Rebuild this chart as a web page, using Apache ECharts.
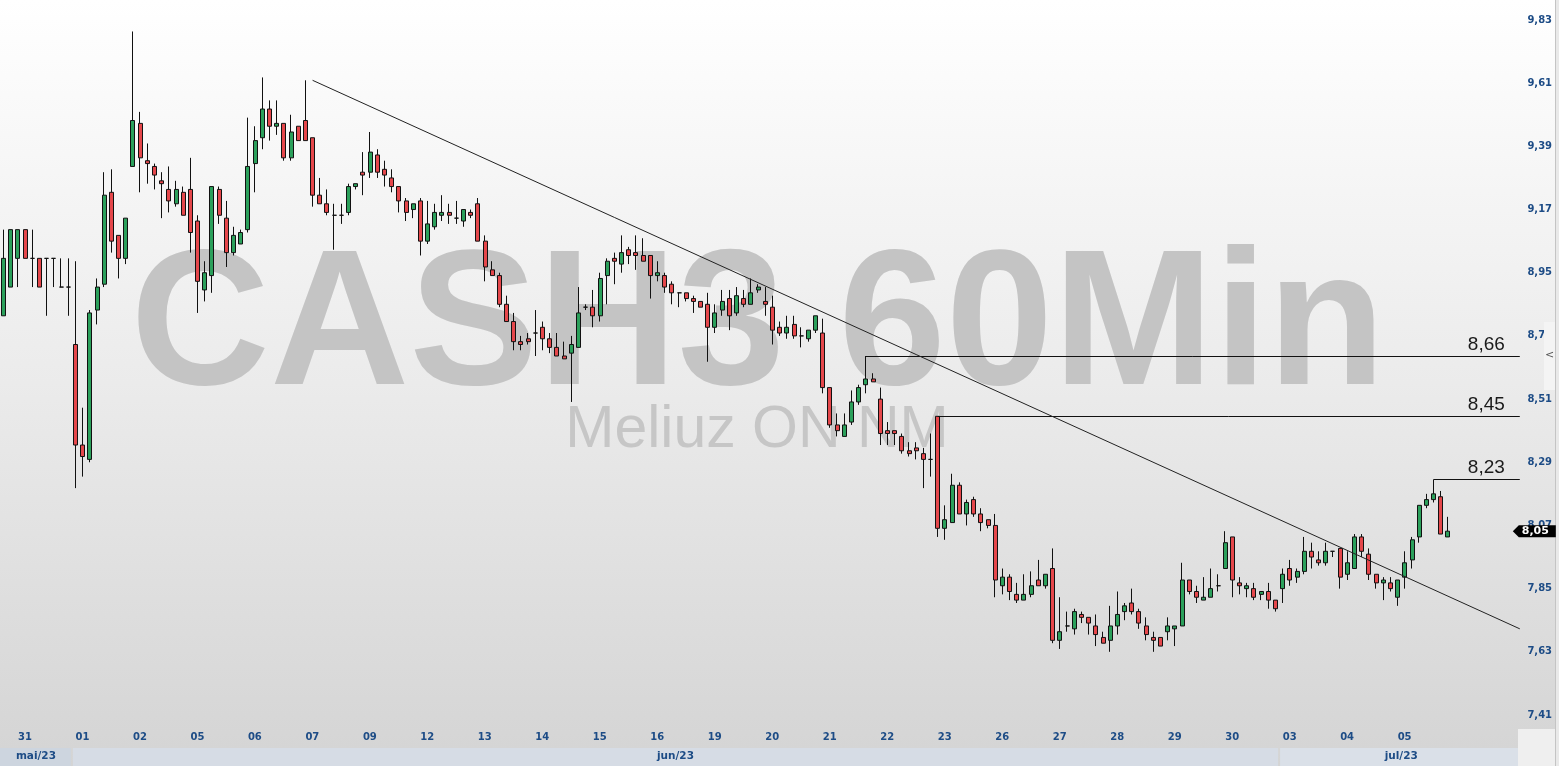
<!DOCTYPE html>
<html>
<head>
<meta charset="utf-8">
<script src="https://cdn.jsdelivr.net/npm/echarts@6/dist/echarts.min.js"></script>
<style>html,body{margin:0;padding:0;background:#fff;overflow:hidden}#c{width:1559px;height:766px}</style>
</head>
<body>
<div id="c"></div>
<script>
// ---- sessions (trading days) and hourly slots ----
const sessionDays  = ['30','31','01','02','05','06','07','09','12','13','14','15','16','19','20','21','22','23','26','27','28','29','30','03','04','05'];
const sessionMonth = [0,0,1,1,1,1,1,1,1,1,1,1,1,1,1,1,1,1,1,1,1,1,1,2,2,2];
const monthLabels  = ['mai/23','jun/23','jul/23'];
const hours        = ['10','11','12','13','14','15','16','17'];
const hiddenFirstHours = 6;   // only 16h and 17h of 30/mai are in view
const emptySlots   = 10;      // free space to the right of the last candle

// ---- OHLC (one row per session) ----
const opens = [
 8.80,8.90,
 9.00,9.10,9.00,9.00,9.00,9.00,8.90,8.90,
 8.70,8.35,8.30,8.82,8.91,9.23,9.08,9.00,
 9.32,9.47,9.34,9.32,9.27,9.24,9.19,9.23,
 9.24,9.13,8.89,8.94,9.24,9.14,9.02,9.05,
 9.10,9.33,9.42,9.52,9.46,9.47,9.35,9.46,
 9.48,9.42,9.22,9.19,9.15,9.15,9.16,9.25,
 9.30,9.30,9.36,9.31,9.28,9.25,9.20,9.17,
 9.20,9.06,9.11,9.15,9.16,9.14,9.13,9.16,
 9.19,9.06,8.96,8.94,8.84,8.78,8.71,8.72,
 8.74,8.76,8.72,8.69,8.66,8.67,8.69,8.83,
 8.83,8.80,8.94,9.00,8.98,9.03,9.02,9.01,
 9.01,8.94,8.94,8.91,8.88,8.88,8.86,8.85,
 8.84,8.76,8.82,8.86,8.81,8.86,8.84,8.89,
 8.85,8.83,8.76,8.74,8.77,8.73,8.72,8.75,
 8.74,8.55,8.42,8.38,8.43,8.50,8.56,8.58,
 8.51,8.40,8.40,8.38,8.33,8.34,8.32,8.30,
 8.45,8.06,8.08,8.21,8.11,8.16,8.11,8.09,
 8.07,7.86,7.89,7.83,7.81,7.83,7.88,7.86,
 7.92,7.67,7.72,7.71,7.76,7.75,7.72,7.68,
 7.67,7.72,7.77,7.80,7.77,7.72,7.68,7.68,
 7.70,7.71,7.72,7.88,7.84,7.81,7.82,7.86,
 7.92,8.03,7.87,7.85,7.85,7.83,7.84,7.81,
 7.85,7.92,7.89,7.91,7.98,7.95,7.94,7.98,
 7.99,7.90,7.92,8.03,7.97,7.90,7.87,7.87,
 7.82,7.89,7.95,8.03,8.14,8.16,8.17,8.03
];
const closes = [
 9.00,9.10,
 9.10,9.00,9.00,8.90,9.00,9.00,8.90,8.90,
 8.35,8.31,8.81,8.90,9.22,9.06,9.00,9.14,
 9.48,9.35,9.33,9.29,9.26,9.20,9.24,9.15,
 9.09,8.92,8.95,9.25,9.15,9.02,9.08,9.09,
 9.32,9.41,9.52,9.46,9.47,9.35,9.44,9.41,
 9.41,9.22,9.19,9.16,9.15,9.15,9.25,9.26,
 9.29,9.37,9.30,9.29,9.25,9.20,9.16,9.19,
 9.06,9.12,9.16,9.16,9.15,9.14,9.17,9.15,
 9.06,8.97,8.94,8.84,8.78,8.71,8.70,8.71,
 8.74,8.72,8.69,8.66,8.65,8.70,8.81,8.83,
 8.80,8.93,8.99,8.99,9.02,9.01,9.01,8.99,
 8.94,8.95,8.90,8.88,8.88,8.86,8.85,8.83,
 8.76,8.81,8.85,8.80,8.87,8.84,8.88,8.90,
 8.84,8.75,8.74,8.76,8.73,8.73,8.75,8.80,
 8.55,8.42,8.40,8.42,8.50,8.55,8.58,8.57,
 8.39,8.39,8.39,8.33,8.32,8.33,8.30,8.30,
 8.06,8.09,8.21,8.11,8.15,8.11,8.08,8.07,
 7.88,7.89,7.84,7.81,7.83,7.86,7.86,7.90,
 7.67,7.70,7.72,7.77,7.75,7.73,7.69,7.66,
 7.72,7.76,7.79,7.77,7.73,7.69,7.67,7.65,
 7.72,7.72,7.88,7.84,7.82,7.82,7.85,7.86,
 8.01,7.88,7.86,7.86,7.82,7.84,7.81,7.78,
 7.90,7.88,7.91,7.98,7.96,7.94,7.98,7.98,
 7.89,7.94,8.03,7.98,7.90,7.87,7.88,7.85,
 7.88,7.94,8.02,8.14,8.16,8.18,8.04,8.05
];
const lows = [
 8.80,8.90,
 8.90,9.00,8.90,8.90,8.80,8.90,8.90,8.80,
 8.20,8.24,8.29,8.77,8.90,9.02,8.93,8.98,
 9.32,9.23,9.26,9.24,9.14,9.16,9.18,9.15,
 9.02,8.81,8.85,8.88,9.12,8.97,9.01,9.05,
 9.09,9.23,9.38,9.41,9.43,9.34,9.34,9.41,
 9.41,9.18,9.19,9.15,9.03,9.12,9.15,9.24,
 9.22,9.28,9.28,9.25,9.23,9.16,9.13,9.14,
 9.01,9.05,9.10,9.13,9.12,9.12,9.11,9.14,
 9.06,8.92,8.94,8.83,8.78,8.68,8.68,8.70,
 8.66,8.68,8.67,8.66,8.65,8.50,8.69,8.82,
 8.76,8.78,8.84,8.91,8.95,8.98,8.96,8.99,
 8.86,8.92,8.88,8.84,8.83,8.85,8.81,8.83,
 8.64,8.74,8.80,8.75,8.80,8.83,8.84,8.88,
 8.80,8.70,8.73,8.72,8.72,8.69,8.71,8.74,
 8.53,8.41,8.38,8.38,8.42,8.49,8.53,8.57,
 8.35,8.35,8.35,8.32,8.31,8.30,8.20,8.24,
 8.03,8.02,8.08,8.11,8.07,8.10,8.05,8.06,
 7.82,7.83,7.81,7.80,7.81,7.82,7.86,7.85,
 7.66,7.64,7.70,7.69,7.73,7.69,7.65,7.66,
 7.63,7.69,7.74,7.76,7.71,7.67,7.63,7.65,
 7.67,7.65,7.72,7.83,7.80,7.81,7.82,7.84,
 7.92,7.82,7.83,7.82,7.81,7.81,7.78,7.77,
 7.80,7.86,7.87,7.90,7.92,7.93,7.93,7.96,
 7.85,7.88,7.92,7.96,7.88,7.85,7.81,7.84,
 7.79,7.85,7.92,8.01,8.13,8.15,8.04,8.03
];
const highs = [
 9.10,9.10,
 9.10,9.10,9.10,9.00,9.00,9.00,9.00,9.00,
 8.99,8.48,8.82,8.93,9.30,9.31,9.08,9.14,
 9.79,9.51,9.40,9.33,9.30,9.32,9.27,9.25,
 9.35,9.15,8.99,9.25,9.25,9.20,9.11,9.10,
 9.49,9.46,9.63,9.55,9.55,9.47,9.50,9.46,
 9.62,9.42,9.28,9.24,9.19,9.19,9.26,9.26,
 9.37,9.44,9.38,9.34,9.31,9.25,9.21,9.19,
 9.21,9.20,9.19,9.22,9.19,9.20,9.17,9.17,
 9.21,9.08,8.99,8.95,8.87,8.81,8.73,8.74,
 8.82,8.78,8.74,8.74,8.71,8.73,8.90,8.84,
 8.89,8.95,9.00,9.02,9.08,9.04,9.08,9.07,
 9.01,8.99,8.95,8.92,8.88,8.88,8.87,8.85,
 8.88,8.84,8.89,8.89,8.90,8.89,8.93,8.91,
 8.90,8.87,8.78,8.80,8.80,8.76,8.75,8.80,
 8.79,8.55,8.46,8.46,8.54,8.56,8.66,8.60,
 8.55,8.43,8.40,8.39,8.36,8.36,8.34,8.39,
 8.45,8.14,8.25,8.22,8.16,8.17,8.13,8.09,
 8.11,7.92,7.90,7.87,7.90,7.91,7.95,7.90,
 7.99,7.82,7.77,7.78,7.77,7.75,7.76,7.70,
 7.79,7.84,7.80,7.85,7.78,7.75,7.70,7.68,
 7.75,7.72,7.94,7.88,7.86,7.89,7.92,7.90,
 8.05,8.03,7.89,7.87,7.87,7.84,7.87,7.81,
 7.92,7.95,7.92,8.03,8.01,7.98,8.01,7.98,
 7.99,7.98,8.04,8.04,7.99,7.90,7.89,7.89,
 7.88,7.98,8.03,8.14,8.18,8.23,8.19,8.10
];

// ---- price axis ticks and drawn studies ----
const yTicks = [7.41,7.63,7.85,8.07,8.29,8.51,8.73,8.95,9.17,9.39,9.61,9.83];
const yMin = 7.3647, yMax = 9.8996;
const levelValues   = [8.66, 8.45, 8.23];
const levelStartIdx = [120, 130, 199];
const trendStart = [43, 9.62];
const trendEnd   = [211, 7.71];
const watermarkTitle = 'CASH3 60Min';
const watermarkSub   = 'Meliuz ON NM';

// ---- build categories ----
const categories = [], dayLabelAt = {}, candleMonth = [];
sessionDays.forEach((d, s) => {
  hours.forEach(h => {
    categories.push(d + '/' + sessionMonth[s] + ' ' + h + 'h');
    candleMonth.push(sessionMonth[s]);
  });
});
categories.splice(0, hiddenFirstHours);
candleMonth.splice(0, hiddenFirstHours);
categories.forEach((c, i) => { if (c.endsWith(' 10h')) dayLabelAt[i] = c.split('/')[0]; });
for (let k = 1; k <= emptySlots; k++) categories.push('+' + k);
const N = categories.length;

const candleData = opens.map((o, i) => [o, closes[i], lows[i], highs[i]]);
const lastClose = closes[closes.length - 1];

// month spans
const monthSpan = monthLabels.map((m, mi) => {
  let a = candleMonth.indexOf(mi), b = candleMonth.lastIndexOf(mi);
  if (mi === monthLabels.length - 1) b = N - 1;
  return [a, b];
});
const monthCenters = monthSpan.map(s => (s[0] + s[1]) / 2);

const fmt = v => v.toFixed(2).replace('.', ',');
const blue = '#1d4c86';
const axisFont = {color: blue, fontFamily: 'DejaVu Sans', fontWeight: 'bold', fontSize: 10};

const levelLines = levelValues.map((v, k) => ([
  {coord: [levelStartIdx[k], v], name: fmt(v),
   label: {show: true, position: 'insideEndTop', formatter: '{b}', distance: [15, 2],
           color: '#1a1a1a', fontFamily: 'Liberation Sans', fontSize: 19}},
  {coord: [N - 1, v]}
]));
const trendLine = [{coord: trendStart, label: {show: false}, lineStyle: {color: '#222', width: 1}},
                   {coord: trendEnd}];

const chart = echarts.init(document.getElementById('c'), null, {width: 1559, height: 766});
const option = {
  animation: false,
  backgroundColor: {type: 'linear', x: 0, y: 0, x2: 0, y2: 1,
    colorStops: [{offset: 0, color: '#ffffff'}, {offset: 0.5, color: '#ebebeb'}, {offset: 1, color: '#d4d4d4'}]},
  grid: {left: -1.685, right: 35.6, top: 0, bottom: 38},
  xAxis: [
    {type: 'category', data: categories, boundaryGap: true, z: 3,
     axisLine: {show: false}, axisTick: {show: false}, splitLine: {show: false},
     axisLabel: Object.assign({interval: i => dayLabelAt[i] !== undefined,
       formatter: (v, i) => dayLabelAt[i] || '', align: 'left', margin: 4}, axisFont)},
    {type: 'value', gridIndex: 0, position: 'bottom', offset: 19, min: -0.5, max: N - 0.5, z: 3,
     axisLine: {show: false}, axisTick: {show: false}, splitLine: {show: false},
     axisLabel: Object.assign({customValues: monthCenters, margin: 4,
       formatter: v => monthLabels[monthCenters.indexOf(v)] || ''}, axisFont, {fontSize: 10.5})}
  ],
  yAxis: {type: 'value', position: 'right', min: yMin, max: yMax, z: 1,
    axisLine: {show: false}, axisTick: {show: false}, splitLine: {show: false},
    axisLabel: Object.assign({customValues: yTicks, formatter: fmt, margin: 4}, axisFont)},
  series: [{
    type: 'candlestick', data: candleData, barWidth: 4.5,
    itemStyle: {color: '#2ba05b', color0: '#e5474b', borderColor: '#111', borderColor0: '#111', borderWidth: 1},
    markLine: {silent: true, symbol: ['none', 'none'], animation: false,
      lineStyle: {color: '#111', width: 1, type: 'solid'},
      data: levelLines.concat([trendLine])},
    markPoint: {silent: true, animation: false,
      symbol: 'path://M0,6L6,0L43,0L43,12L6,12Z', symbolSize: [43, 12], symbolKeepAspect: false,
      symbolOffset: [14.5, 0],
      itemStyle: {color: '#000'},
      label: {show: true, position: 'inside', offset: [1, 0], formatter: p => fmt(p.value),
              color: '#fff', fontFamily: 'DejaVu Sans', fontWeight: 'bold', fontSize: 11},
      data: [{coord: [N - 1, lastClose], value: lastClose}]}
  }]
};
chart.setOption(option);

// decorations positioned from the axes
const px = v => chart.convertToPixel({xAxisIndex: 1}, v);
const plotRight = px(N - 0.5) - 5.4;
const g = [
  {type: 'text', z: 0, silent: true, style: {text: watermarkTitle, x: 758, y: 331, align: 'center', verticalAlign: 'middle',
    font: 'bold 193px "Liberation Sans", Arial, sans-serif', fill: '#c4c4c4'}},
  {type: 'text', z: 0, silent: true, style: {text: watermarkSub, x: 757, y: 431, align: 'center', verticalAlign: 'middle',
    font: '59px "Liberation Sans", Arial, sans-serif', fill: '#c6c6c6'}}
];
const cellColors = ['#cdd5df', '#d6dce5', '#dae0e8'];
monthSpan.forEach((s, mi) => {
  let x0 = Math.max(0, px(s[0] - 0.5) + (mi > 0 ? 1 : 0));
  let x1 = Math.min(plotRight, px(s[1] + 0.5) - 1);
  g.push({type: 'rect', z: 0, silent: true, shape: {x: x0, y: 748, width: x1 - x0, height: 18}, style: {fill: cellColors[mi]}});
});
g.push({type: 'rect', z: 0, silent: true, shape: {x: plotRight, y: 729, width: 1559 - plotRight, height: 37}, style: {fill: '#efefef'}});
g.push({type: 'rect', z: 0, silent: true, shape: {x: 1555, y: 0, width: 4, height: 766}, style: {fill: '#e9e9e9'}});
g.push({type: 'line', z: 0, silent: true, shape: {x1: 1555.5, y1: 0, x2: 1555.5, y2: 766}, style: {stroke: '#c4c4c4', lineWidth: 1}});
g.push({type: 'rect', z: 10, silent: true, shape: {x: 1544, y: 322, width: 11, height: 68}, style: {fill: '#f4f4f4'}});
g.push({type: 'text', z: 11, silent: true, style: {text: '<', x: 1549.5, y: 355, align: 'center', verticalAlign: 'middle',
  font: '11px "DejaVu Sans", sans-serif', fill: '#555'}});
chart.setOption({graphic: {elements: g}});
</script>
</body>
</html>
